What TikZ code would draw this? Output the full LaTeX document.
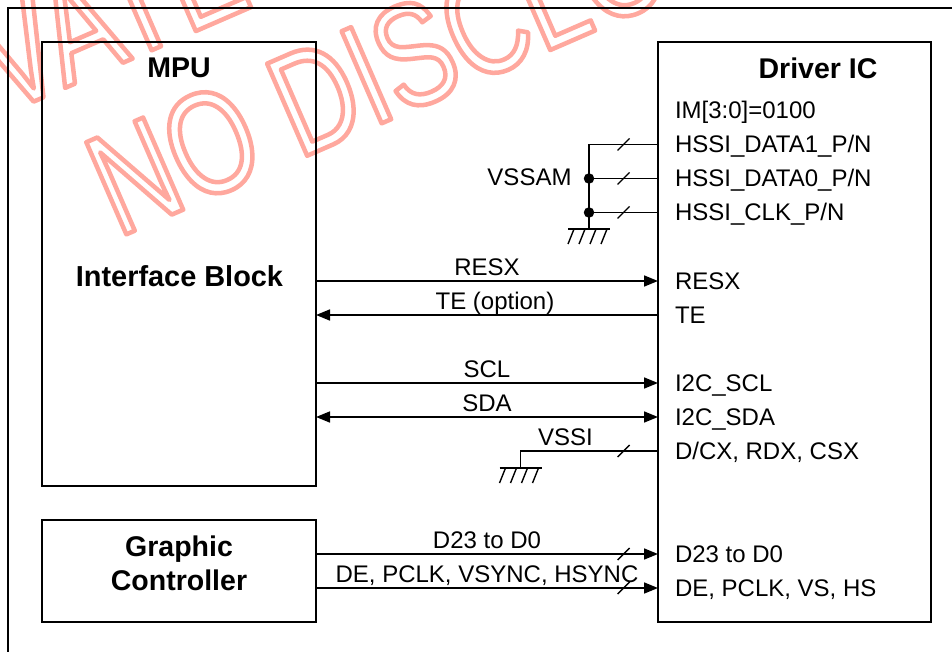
\documentclass[tikz,border=0pt]{standalone}
\usepackage{fontspec}
\setmainfont{Liberation Sans}
\newfontfamily\wmfont[FakeStretch=0.76]{Liberation Sans}
\usetikzlibrary{arrows.meta}
\definecolor{wm}{RGB}{255,168,158}
\newcommand{\wmtext}[1]{\special{pdf:code 1 Tr 4.5 w 1 j}#1\special{pdf:code 0 Tr}}
\tikzset{
  x=1pt,y=-1pt,
  every node/.style={inner sep=0pt,outer sep=0pt,font=\fontsize{24}{24}\selectfont},
  wire/.style={draw=black,line width=1.6pt},
  sig/.style={wire,-{Triangle[length=14pt,width=11pt]}},
  sigb/.style={wire,{Triangle[length=14pt,width=11pt]}-{Triangle[length=14pt,width=11pt]}},
  box/.style={draw=black,line width=1.5pt,anchor=north west},
  pin/.style={anchor=base west},
  lab/.style={anchor=base},
  title/.style={font=\fontsize{28.5}{34}\selectfont\bfseries,align=center},
  wmark/.style={text=wm,font=\wmfont\fontsize{146}{146}\selectfont,rotate=23.5,anchor=base west},
  tick/.style={line width=1.4pt},
  dot/.style={circle,fill=black,minimum size=10.5pt},
  gndbar/.style={line width=1.6pt}
}
\newcommand{\busTick}[1]{\draw[tick] ([shift={(-6,6)}]#1) -- ([shift={(6,-6)}]#1);}
\newcommand{\gnd}[1]{%
  \draw[gndbar] ([shift={(-21,0)}]#1) -- ([shift={(21,0)}]#1);
  \foreach \dx in {-21,-10,1,12}{\draw[tick] ([shift={(\dx,15)}]#1) -- ([shift={(\dx+6,0)}]#1);}
}
\begin{document}
\begin{tikzpicture}
\useasboundingbox (0,0) rectangle (952,652);
\begin{scope}
\clip (0,0) rectangle (952,652);
\node[wmark] (w1) at (-165,188) {\wmtext{PRIVATE}};
\node[wmark] (w2) at (118,238) {\wmtext{NO DISCLOSURE}};
\draw[line width=1.5pt] (8,660) -- (8,8) -- (960,8);
\end{scope}

\node[box,minimum width=274pt,minimum height=444pt] (mpu) at (42,42) {};
\node[box,minimum width=273pt,minimum height=580pt] (drv) at (658,42) {};
\node[box,minimum width=274pt,minimum height=102pt] (gfx) at (42,520) {};

\node[title,anchor=base] (tmpu) at (179,78) {MPU};
\node[title,anchor=base,font=\fontsize{28.9}{34}\selectfont\bfseries] (tif) at (179.5,286) {Interface Block};
\node[title,anchor=base] (tdrv) at (818,79) {Driver IC};
\node[title] (tgfx) at (179,563.5) {Graphic\\Controller};

\node[pin] (im) at (675,119) {IM[3:0]=0100};
\node[pin] (h1) at (675,153) {HSSI\_DATA1\_P/N};
\node[pin] (h0) at (675,187) {HSSI\_DATA0\_P/N};
\node[pin] (hc) at (675,221) {HSSI\_CLK\_P/N};
\node[pin] (presx) at (675,289) {RESX};
\node[pin] (pte) at (675,323) {TE};
\node[pin] (pscl) at (675,391) {I2C\_SCL};
\node[pin] (psda) at (675,425) {I2C\_SDA};
\node[pin] (pdc) at (675,459) {D/CX, RDX, CSX};
\node[pin] (pd) at (675,562) {D23 to D0};
\node[pin] (pde) at (675,596) {DE, PCLK, VS, HS};

\coordinate (y1) at (658,144.5);
\coordinate (y0) at (658,178.5);
\coordinate (yc) at (658,212.5);
\coordinate (yresx) at (658,281);
\coordinate (yte) at (658,315);
\coordinate (yscl) at (658,383);
\coordinate (ysda) at (658,417);
\coordinate (ydc) at (658,451);
\coordinate (yd) at (658,554);
\coordinate (yde) at (658,588);

% VSSAM bus
\coordinate (bt) at (589,144.5);
\coordinate (bg) at (589,229);
\node[dot] (d0) at (589,178.5) {};
\node[dot] (dc) at (589,212.5) {};
\draw[wire] (y1) -- (bt) -- (bg);
\draw[wire] (y0) -- (d0);
\draw[wire] (yc) -- (dc);
\gnd{bg}
\node[anchor=base east] (vssam) at (571.5,186) {VSSAM};
\coordinate (t1) at (623.5,144.5);
\coordinate (t0) at (623.5,178.5);
\coordinate (tc) at (623.5,212.5);
\busTick{t1}\busTick{t0}\busTick{tc}

% Signals
\draw[sig] (mpu.east |- yresx) -- (yresx);
\node[lab] (lresx) at (487,275) {RESX};
\draw[sig] (yte) -- (mpu.east |- yte);
\node[lab] (lte) at (495,309) {TE (option)};
\draw[sig] (mpu.east |- yscl) -- (yscl);
\node[lab] (lscl) at (487,377) {SCL};
\draw[sigb] (mpu.east |- ysda) -- (ysda);
\node[lab] (lsda) at (487,411) {SDA};

% VSSI
\coordinate (vc) at (520.5,451);
\coordinate (vg) at (520.5,468);
\draw[wire] (ydc) -- (vc) -- (vg);
\gnd{vg}
\node[lab] (lvssi) at (565.5,445) {VSSI};
\coordinate (t2) at (623.5,451);
\busTick{t2}

% Graphic controller
\draw[sig] (gfx.east |- yd) -- (yd);
\node[lab] (ld) at (487,548) {D23 to D0};
\draw[sig] (gfx.east |- yde) -- (yde);
\node[lab] (lde) at (487,582) {DE, PCLK, VSYNC, HSYNC};
\coordinate (t3) at (623.5,554);
\coordinate (t4) at (623.5,588);
\busTick{t3}\busTick{t4}
\end{tikzpicture}
\end{document}
